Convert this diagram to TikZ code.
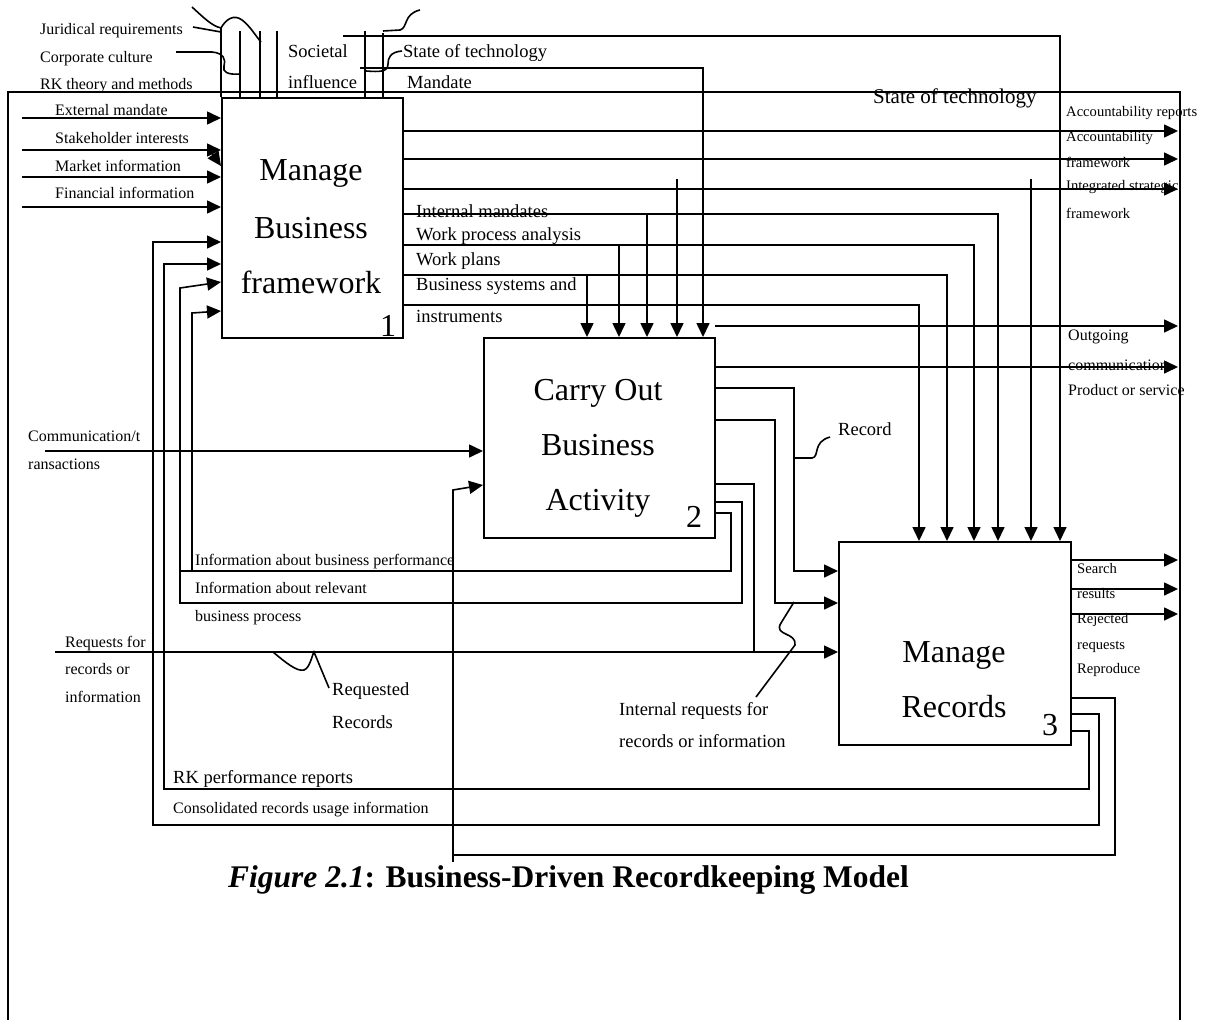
\documentclass[tikz,border=0pt]{standalone}
\usepackage{fontspec}
\setmainfont{Liberation Serif}
\usetikzlibrary{arrows.meta}

\begin{document}
\begin{tikzpicture}[x=1pt,y=-1pt,
    ln/.style={line width=1.6pt},
    arr/.style={line width=1.6pt,-{Triangle[length=14pt,width=13pt]}},
    box/.style={draw,line width=2.2pt,inner sep=0pt,anchor=north west},
    boxtext/.style={anchor=base,inner sep=0pt,font=\fontsize{32}{32}\selectfont},
    lblS/.style={anchor=base west,inner sep=0pt,font=\fontsize{14.6}{14.6}\selectfont},
    lbl/.style={anchor=base west,inner sep=0pt,font=\fontsize{16}{16}\selectfont},
    lblM/.style={anchor=base west,inner sep=0pt,font=\fontsize{18.5}{18.5}\selectfont}]
    \useasboundingbox (0,0) rectangle (1209,1020);

    % the three activities
    \node[box,minimum width=181pt,minimum height=240pt] (mbf) at (221,97) {};
    \node[box,minimum width=231pt,minimum height=200pt] (coba) at (483,337) {};
    \node[box,minimum width=232pt,minimum height=203pt] (mr) at (838,541) {};
    \node[boxtext] (mbf-a) at (311,180) {Manage};
    \node[boxtext] (mbf-b) at (311,238) {Business};
    \node[boxtext] (mbf-c) at (311,293) {framework};
    \node[boxtext] (mbf-n) at (388,336) {1};
    \node[boxtext] (coba-a) at (598,400) {Carry Out};
    \node[boxtext] (coba-b) at (598,455) {Business};
    \node[boxtext] (coba-c) at (598,510) {Activity};
    \node[boxtext] (coba-n) at (694,527) {2};
    \node[boxtext] (mr-a) at (954,662) {Manage};
    \node[boxtext] (mr-b) at (954,717) {Records};
    \node[boxtext] (mr-n) at (1050,735) {3};

    % frame
    \draw[ln] (8,1020) -- (8,92) -- (1180,92) -- (1180,1020);

    % controls on box 1
    \draw[ln] (mbf.north west) -- (mbf.north west |- 0,28);
    \foreach \x/\y in {240/31,260/31,277/31,365/31,383/33}
        \draw[ln] (\x,\y) -- (\x,0 |- mbf.north);
    \draw[ln] (193,27) -- (221,32);
    \draw[ln] (192,7) .. controls (204,18) and (212,26) .. (221,28)
        .. controls (226,19) and (234,14) .. (242,20)
        .. controls (250,26) and (255,35) .. (261,42);
    \draw[ln] (176,52) -- (212,52) .. controls (224,53) and (226,60) .. (224,66)
        .. controls (222,72) and (228,75) .. (240,74);
    \draw[ln] (383,31) -- (400,30) .. controls (408,28) and (403,14) .. (420,10);
    \draw[ln] (402,51) .. controls (390,52) and (388,58) .. (388,64)
        .. controls (388,72) and (380,72) .. (366,71);
    \draw[arr] (343,36) -- (1060,36) -- (1060,0 |- mr.north);
    \draw[arr] (360,68) -- (703,68) -- (703,0 |- coba.north);

    % inputs on box 1
    \foreach \y in {118,150,177,207}
        \draw[arr] (22,\y) -- (mbf.west |- 0,\y);
    \draw[arr] (212,153) -- (221,166);

    % outputs of box 1
    \foreach \y in {131,159,189}
        \draw[arr] (mbf.east |- 0,\y) -- (1178,\y);
    \draw[arr] (mbf.east |- 0,214) -- (998,214) -- (998,0 |- mr.north);
    \draw[arr] (mbf.east |- 0,245) -- (974,245) -- (974,0 |- mr.north);
    \draw[arr] (mbf.east |- 0,275) -- (947,275) -- (947,0 |- mr.north);
    \draw[arr] (mbf.east |- 0,305) -- (919,305) -- (919,0 |- mr.north);
    \draw[arr] (647,214) -- (647,0 |- coba.north);
    \draw[arr] (619,245) -- (619,0 |- coba.north);
    \draw[arr] (587,275) -- (587,0 |- coba.north);
    \draw[arr] (677,179) -- (677,0 |- coba.north);
    \draw[arr] (1031,179) -- (1031,0 |- mr.north);
    \draw[arr] (715,326) -- (1178,326);

    % box 2
    \draw[arr] (45,451) -- (coba.west |- 0,451);
    \draw[arr] (coba.east |- 0,367) -- (1178,367);
    \draw[arr] (coba.east |- 0,388) -- (794,388) -- (794,571) -- (mr.west |- 0,571);
    \draw[arr] (coba.east |- 0,420) -- (775,420) -- (775,603) -- (mr.west |- 0,603);
    \draw[ln] (coba.east |- 0,484) -- (754,484) -- (754,652);
    \draw[arr] (coba.east |- 0,502) -- (742,502) -- (742,603) -- (180,603) -- (180,288)
        -- (mbf.west |- 0,282);
    \draw[arr] (coba.east |- 0,513) -- (731,513) -- (731,571) -- (192,571) -- (192,313)
        -- (mbf.west |- 0,311);
    \draw[ln] (180,571) -- (192,571);

    % box 3
    \draw[arr] (55,652) -- (mr.west |- 0,652);
    \foreach \y in {560,589,614}
        \draw[arr] (mr.east |- 0,\y) -- (1178,\y);
    \draw[arr] (mr.east |- 0,698) -- (1115,698) -- (1115,855) -- (453,855) -- (453,490)
        -- (coba.west |- 0,485);
    \draw[ln] (453,855) -- (453,862);
    \draw[arr] (mr.east |- 0,714) -- (1099,714) -- (1099,825) -- (153,825) -- (153,242)
        -- (mbf.west |- 0,242);
    \draw[arr] (mr.east |- 0,731) -- (1089,731) -- (1089,789) -- (164,789) -- (164,264)
        -- (mbf.west |- 0,264);

    % squiggles
    \draw[ln] (794,458) -- (812,458) .. controls (820,457) and (812,442) .. (830,437);
    \draw[ln] (794,602) -- (781,623) .. controls (773,636) and (797,632) .. (795,645)
        -- (756,697);
    \draw[ln] (273,652) .. controls (285,662) and (297,672) .. (304,670)
        .. controls (310,668) and (312,655) .. (314,652) -- (329,688);

    % labels
    \node[lbl] (l-jur) at (40,34) {Juridical requirements};
    \node[lbl] (l-corp) at (40,62) {Corporate culture};
    \node[lbl] (l-rk) at (40,89) {RK theory and methods};
    \node[lblM] (l-soc) at (288,57) {Societal};
    \node[lblM] (l-infl) at (288,88) {influence};
    \node[lblM] (l-tech) at (403,57) {State of technology};
    \node[lblM] (l-mand) at (407,88) {Mandate};
    \node[anchor=base west,inner sep=0pt,font=\fontsize{21}{21}\selectfont] (l-tech2) at (873,103) {State of technology};

    \node[lbl] (l-ext) at (55,115) {External mandate};
    \node[lbl] (l-stake) at (55,143) {Stakeholder interests};
    \node[lbl] (l-mkt) at (55,171) {Market information};
    \node[lbl] (l-fin) at (55,198) {Financial information};

    \node[lblS] (l-accr) at (1066,116) {Accountability reports};
    \node[lblS] (l-accf) at (1066,141) {Accountability};
    \node[lblS] (l-accf2) at (1066,167) {framework};
    \node[lblS] (l-isf) at (1066,190) {Integrated strategic};
    \node[lblS] (l-isf2) at (1066,218) {framework};
    \node[lbl] (l-out) at (1068,340) {Outgoing};
    \node[lbl] (l-out2) at (1068,370) {communication};
    \node[lbl] (l-prod) at (1068,395) {Product or service};
    \node[lblS] (l-srch) at (1077,573) {Search};
    \node[lblS] (l-srch2) at (1077,598) {results};
    \node[lblS] (l-rej) at (1077,623) {Rejected};
    \node[lblS] (l-rej2) at (1077,649) {requests};
    \node[lblS] (l-repr) at (1077,673) {Reproduce};

    \node[lblM] (l-im) at (416,217) {Internal mandates};
    \node[lblM] (l-wpa) at (416,240) {Work process analysis};
    \node[lblM] (l-wp) at (416,265) {Work plans};
    \node[lblM] (l-bsi) at (416,290) {Business systems and};
    \node[lblM] (l-bsi2) at (416,322) {instruments};

    \node[lbl] (l-comm) at (28,441) {Communication/t};
    \node[lbl] (l-comm2) at (28,469) {ransactions};
    \node[lbl] (l-ibp) at (195,565) {Information about business performance};
    \node[lbl] (l-irb) at (195,593) {Information about relevant};
    \node[lbl] (l-irb2) at (195,621) {business process};
    \node[lbl] (l-req) at (65,647) {Requests for};
    \node[lbl] (l-req2) at (65,674) {records or};
    \node[lbl] (l-req3) at (65,702) {information};
    \node[lblM] (l-rrec) at (332,695) {Requested};
    \node[lblM] (l-rrec2) at (332,728) {Records};
    \node[lblM] (l-ireq) at (619,715) {Internal requests for};
    \node[lblM] (l-ireq2) at (619,747) {records or information};
    \node[lblM] (l-rec) at (838,435) {Record};
    \node[lblM] (l-rkp) at (173,783) {RK performance reports};
    \node[lbl] (l-cons) at (173,813) {Consolidated records usage information};

    \node[anchor=base west,inner sep=0pt,font=\fontsize{31.5}{31.5}\selectfont] (caption) at (228,887)
        {\textbf{\textit{Figure 2.1}: Business-Driven Recordkeeping Model}};
\end{tikzpicture}
\end{document}
